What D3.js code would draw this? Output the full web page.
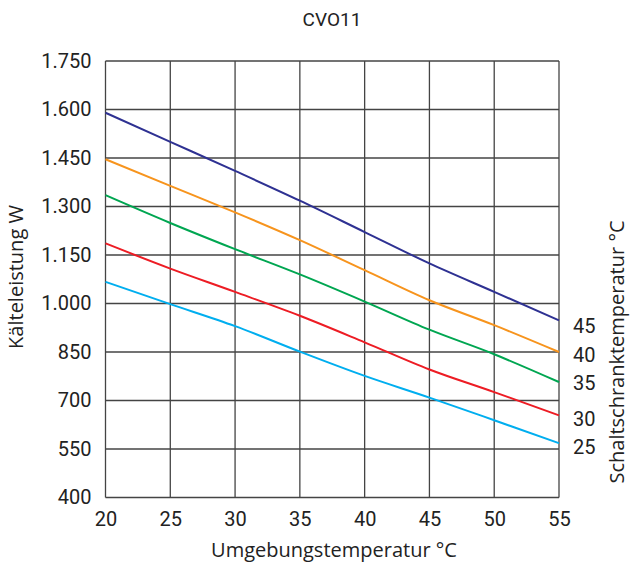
<!DOCTYPE html>
<html lang="de">
<head>
    <meta charset="UTF-8">
    <title>CVO11</title>
    <style>
        body { margin: 0; background: #fff; }
        text { font-family: Roboto, "Noto Sans", sans-serif; fill: #222; }
        .axtitle { font-family: "Open Sans", "Noto Sans", sans-serif; }
    </style>
</head>
<body>
<div id="chart"></div>
<script src="https://cdn.jsdelivr.net/npm/d3@7/dist/d3.min.js"></script>
<script>
    // Umgebungstemperatur (x) und Kälteleistung je Schaltschranktemperatur
    var temps = [20, 25, 30, 35, 40, 45, 50, 55];
    var seriesNames = ["45", "40", "35", "30", "25"];
    var s45 = [1590, 1500, 1410, 1318, 1221, 1124, 1036, 948];
    var s40 = [1446, 1364, 1282, 1196, 1103, 1010, 933, 850];
    var s35 = [1335, 1249, 1168, 1090, 1006, 919, 843, 757];
    var s30 = [1186, 1108, 1036, 962, 880, 796, 726, 654];
    var s25 = [1067, 998, 930, 851, 776, 709, 639, 568];
    var colors = ["#2e3192", "#f7941d", "#00a651", "#ed1c24", "#00aeef"];
    var yTicks = [400, 550, 700, 850, 1000, 1150, 1300, 1450, 1600, 1750];
    var xTicks = [20, 25, 30, 35, 40, 45, 50, 55];

    var width = 630, height = 568;
    var pLeft = 105.5, pRight = 559, pTop = 61, pBottom = 497.5;
    var fontSize = "20px";

    var svg = d3.select("#chart").append("svg")
        .attr("width", width)
        .attr("height", height);

    var x = d3.scaleLinear().domain([20, 55]).range([pLeft, pRight]);
    var y = d3.scaleLinear().domain([400, 1750]).range([pBottom, pTop]);

    var fmt = function(v){
        return d3.format(",")(v).replace(/,/g, ".");
    };

    // grid
    var grid = svg.append("g");
    grid.selectAll(".vline")
        .data(xTicks)
        .enter().append("line")
        .attr("x1", function(d){ return x(d); })
        .attr("x2", function(d){ return x(d); })
        .attr("y1", pTop).attr("y2", pBottom)
        .style("stroke", "#444").style("stroke-width", 1.3);
    grid.selectAll(".hline")
        .data(yTicks)
        .enter().append("line")
        .attr("x1", pLeft).attr("x2", pRight)
        .attr("y1", function(d){ return y(d); })
        .attr("y2", function(d){ return y(d); })
        .style("stroke", "#444").style("stroke-width", 1.3);

    // axes (labels only)
    var xAxis = d3.axisBottom(x).tickValues(xTicks).tickSize(0).tickPadding(14);
    var yAxis = d3.axisLeft(y).tickValues(yTicks).tickFormat(fmt).tickSize(0).tickPadding(14);

    var gx = svg.append("g").attr("transform", "translate(0," + pBottom + ")").call(xAxis);
    var gy = svg.append("g").attr("transform", "translate(" + pLeft + ",0)").call(yAxis);
    [gx, gy].forEach(function(g){
        g.select(".domain").remove();
        g.selectAll("text")
            .style("font-family", "Roboto, 'Noto Sans', sans-serif")
            .style("font-size", fontSize)
            .style("fill", "#222");
    });

    // lines
    var all = [s45, s40, s35, s30, s25];
    var line = d3.line()
        .x(function(d, i){ return x(temps[i]); })
        .y(function(d){ return y(d); })
        .curve(d3.curveMonotoneX);

    svg.append("g").selectAll(".serie")
        .data(all)
        .enter().append("path")
        .attr("d", line)
        .style("fill", "none")
        .style("stroke", function(d, i){ return colors[i]; })
        .style("stroke-width", 2);

    // series labels at right
    var labelOffset = [7, 5, 3, 5, 6];
    svg.append("g").selectAll(".lbl")
        .data(all)
        .enter().append("text")
        .attr("x", 573)
        .attr("y", function(d, i){ return y(d[d.length - 1]) + labelOffset[i]; })
        .attr("dominant-baseline", "middle")
        .style("font-size", fontSize)
        .text(function(d, i){ return seriesNames[i]; });

    // titles
    svg.append("text")
        .attr("x", 332).attr("y", 21)
        .attr("text-anchor", "middle")
        .attr("dominant-baseline", "middle")
        .style("font-size", "19px")
        .text("CVO11");

    svg.append("text")
        .attr("class", "axtitle")
        .attr("x", 334).attr("y", 552)
        .attr("text-anchor", "middle")
        .attr("dominant-baseline", "middle")
        .style("font-size", fontSize)
        .text("Umgebungstemperatur °C");

    svg.append("text")
        .attr("class", "axtitle")
        .attr("transform", "translate(18," + 277 + ") rotate(-90)")
        .attr("text-anchor", "middle")
        .attr("dominant-baseline", "middle")
        .style("font-size", fontSize)
        .text("Kälteleistung W");

    svg.append("text")
        .attr("class", "axtitle")
        .attr("transform", "translate(619," + 352 + ") rotate(-90)")
        .attr("text-anchor", "middle")
        .attr("dominant-baseline", "middle")
        .style("font-size", fontSize)
        .text("Schaltschranktemperatur °C");
</script>
</body>
</html>
